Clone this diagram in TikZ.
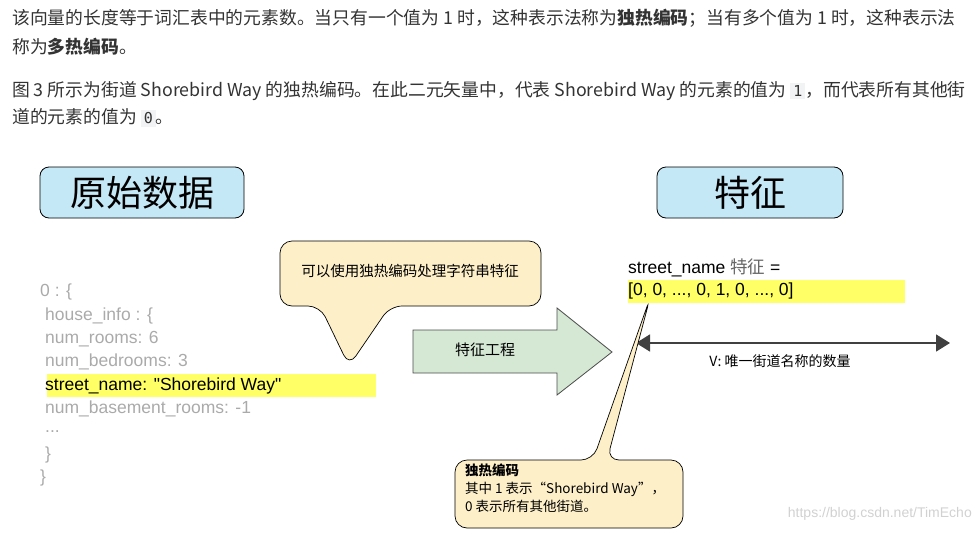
\documentclass[tikz,border=0pt]{standalone}
\usepackage{fontspec}
\usetikzlibrary{arrows.meta}
\setmainfont{Noto Sans CJK SC}
\newfontfamily\lat{Liberation Sans}
\newfontfamily\mono{DejaVu Sans Mono}
\definecolor{bluebox}{HTML}{C5E8F7}
\definecolor{cream}{HTML}{FDEFC8}
\definecolor{greenar}{HTML}{D5E8D4}
\definecolor{hl}{HTML}{FFFF66}
\definecolor{codebg}{HTML}{F2F3F5}
\definecolor{txt}{HTML}{333333}
\definecolor{gr}{HTML}{AAAAAA}
\newcommand{\inlinecode}[1]{{\setlength{\fboxsep}{3pt}\colorbox{codebg}{\mono\fontsize{15}{17}\selectfont #1}}}
\tikzset{
  title/.style={draw=black, fill=bluebox, rounded corners=9pt, line width=0.8pt, font=\fontsize{36}{38}\selectfont, text=black},
  para/.style={anchor=west, font=\fontsize{17.8}{20}\selectfont, text=txt, inner sep=0},
  code/.style={anchor=west, font=\lat\fontsize{17.5}{20}\selectfont, text=gr, inner sep=0},
  callout/.style={draw=black, fill=cream, line width=0.7pt, rounded corners=12pt},
}
\begin{document}
\begin{tikzpicture}[x=1pt,y=-1pt]
\useasboundingbox (0,0) rectangle (980,533);
% paragraph text
\node[para] (p1) at (12,18) {该向量的长度等于词汇表中的元素数。当只有一个值为 1 时，这种表示法称为\textbf{独热编码}；当有多个值为 1 时，这种表示法};
\node[para] (p2) at (12,47) {称为\textbf{多热编码}。};
\node[para] (p3) at (12,91) {图 3 所示为街道 Shorebird Way 的独热编码。在此二元矢量中，代表 Shorebird Way 的元素的值为 \inlinecode{1}，而代表所有其他街};
\node[para] (p4) at (12,118) {道的元素的值为 \inlinecode{0}。};
% title boxes
\node[title, minimum width=204pt, minimum height=51pt] (raw) at (142,192.5) {原始数据};
\node[title, minimum width=186pt, minimum height=51pt] (feat) at (750,192.5) {特征};
% top callout
\draw[callout] (349,366) -- (390,306) -- (541,306) -- (541,241) -- (280,241) -- (280,306) -- (320,306) -- cycle;
\node[font=\fontsize{14.5}{16}\selectfont] (c1) at (410,271) {可以使用独热编码处理字符串特征};
% code
\fill[hl] (47,374) rectangle (376,397);
\node[code] (l1) at (40,292) {0 : \{};
\node[code] (l2) at (45,316) {house\_info : \{};
\node[code] (l3) at (45,339) {num\_rooms: 6};
\node[code] (l4) at (45,362) {num\_bedrooms: 3};
\node[code, text=black] (l5) at (45,386) {street\_name: "Shorebird Way"};
\node[code] (l6) at (45,409) {num\_basement\_rooms: -1};
\node[code] (l7) at (45,432) {...};
\node[code] (l8) at (45,455) {\}};
\node[code] (l9) at (40,478) {\}};
% big arrow
\draw[fill=greenar, draw=black!70, line width=0.8pt] (413,330) -- (557,330) -- (557,308) -- (612,352) -- (557,395) -- (557,373) -- (413,373) -- cycle;
\node[font=\fontsize{15}{17}\selectfont] (fe) at (485,350) {特征工程};
% feature
\fill[hl] (628,280) rectangle (905,303);
\node[anchor=west, inner sep=0, font=\lat\fontsize{17.5}{20}\selectfont] (sn) at (628,268) {street\_name {\rmfamily\color{black!60}特征} =};
\node[anchor=west, inner sep=0, font=\lat\fontsize{17.5}{20}\selectfont] (vec) at (628,291) {[0, 0, ..., 0, 1, 0, ..., 0]};
\coordinate (aL) at (636,343);
\coordinate (aR) at (950,343);
\draw[line width=1.6pt, draw=black!75, {Triangle[length=14pt,width=17pt]}-{Triangle[length=14pt,width=17pt]}] (aL) -- (aR);
\node[font=\fontsize{14}{16}\selectfont] (vl) at (780,361) {V: 唯一街道名称的数量};
% bottom callout
\draw[callout] (593,460) -- (650,298) -- (607,460) -- (683,460) -- (683,528) -- (455,528) -- (455,460) -- cycle;
\node[anchor=north west, align=left, inner sep=0, font=\fontsize{13.5}{18}\selectfont] (c2) at (465,464) {\textbf{独热编码}\\其中 1 表示“Shorebird Way”，\\0 表示所有其他街道。};
\node[anchor=east, inner sep=0, text=black!18, font=\lat\fontsize{14}{16}\selectfont] (wm) at (972,514) {https://blog.csdn.net/TimEcho};
\end{tikzpicture}
\end{document}
